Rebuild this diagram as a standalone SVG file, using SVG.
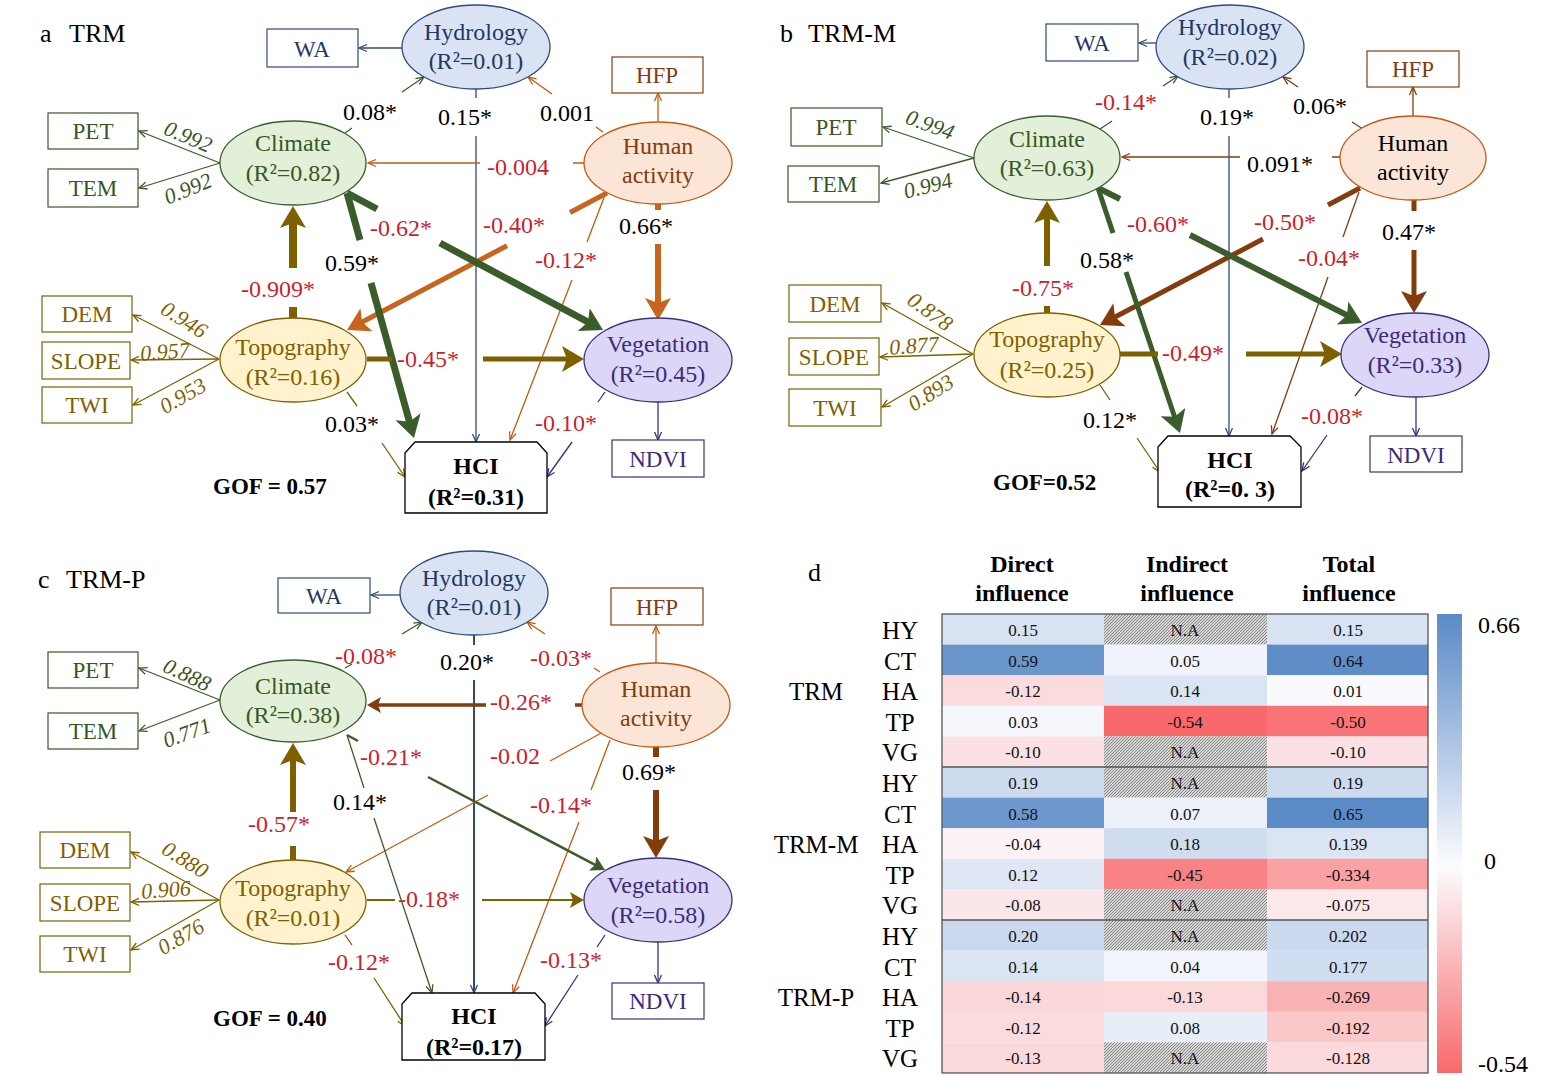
<svg xmlns="http://www.w3.org/2000/svg" width="1558" height="1076" viewBox="0 0 1558 1076">
<style>
text{font-family:"Liberation Serif","Times New Roman",serif;}
.lb{font-size:24px;fill:#000}
.rd{font-size:24px;fill:#cc1f2d}
.ttl{font-size:26px;fill:#000}
.gof{font-size:23px;font-weight:bold;fill:#000}
.nt{font-size:24px;text-anchor:middle}
.bt{font-size:23px;text-anchor:middle}
.ld{font-size:22px;text-anchor:middle;font-style:italic}
.hci{font-size:24px;font-weight:bold;text-anchor:middle;fill:#000}
.bx{fill:#fff;stroke-width:1.2}
.el{stroke-width:1.3}
.th{fill:none;stroke-width:1.3}
.cb{font-size:17px;text-anchor:middle;fill:#111}
.rl{font-size:25px;text-anchor:middle;fill:#000}
.hd{font-size:24px;font-weight:bold;text-anchor:middle;fill:#000}
.B{stroke:#2f4b7c}.G{stroke:#3b5d2c}.O{stroke:#c55a11}.R{stroke:#843c0c}.L{stroke:#7f6000}.P{stroke:#3d2f80}
.tB{fill:#1f3864}.tG{fill:#385723}.tO{fill:#843c0c}.tL{fill:#7f6000}.tP{fill:#3c2a7a}
</style>
<defs>
<marker id="sB" viewBox="0 0 10 10" refX="9" refY="5" markerWidth="10" markerHeight="10" markerUnits="userSpaceOnUse" orient="auto"><path d="M1,1.5 L9,5 L1,8.5" fill="none" stroke="#2f4b7c" stroke-width="1.3"/></marker>
<marker id="sG" viewBox="0 0 10 10" refX="9" refY="5" markerWidth="10" markerHeight="10" markerUnits="userSpaceOnUse" orient="auto"><path d="M1,1.5 L9,5 L1,8.5" fill="none" stroke="#3b5d2c" stroke-width="1.3"/></marker>
<marker id="sO" viewBox="0 0 10 10" refX="9" refY="5" markerWidth="10" markerHeight="10" markerUnits="userSpaceOnUse" orient="auto"><path d="M1,1.5 L9,5 L1,8.5" fill="none" stroke="#c55a11" stroke-width="1.3"/></marker>
<marker id="sR" viewBox="0 0 10 10" refX="9" refY="5" markerWidth="10" markerHeight="10" markerUnits="userSpaceOnUse" orient="auto"><path d="M1,1.5 L9,5 L1,8.5" fill="none" stroke="#843c0c" stroke-width="1.3"/></marker>
<marker id="sL" viewBox="0 0 10 10" refX="9" refY="5" markerWidth="10" markerHeight="10" markerUnits="userSpaceOnUse" orient="auto"><path d="M1,1.5 L9,5 L1,8.5" fill="none" stroke="#7f6000" stroke-width="1.3"/></marker>
<marker id="sP" viewBox="0 0 10 10" refX="9" refY="5" markerWidth="10" markerHeight="10" markerUnits="userSpaceOnUse" orient="auto"><path d="M1,1.5 L9,5 L1,8.5" fill="none" stroke="#3d2f80" stroke-width="1.3"/></marker>
<marker id="lL" viewBox="0 0 22 26" refX="6" refY="13" markerWidth="22" markerHeight="26" markerUnits="userSpaceOnUse" orient="auto"><path d="M0,0 L22,13 L0,26 L5,13 z" fill="#7f6000"/></marker>
<marker id="lG" viewBox="0 0 22 26" refX="6" refY="13" markerWidth="22" markerHeight="26" markerUnits="userSpaceOnUse" orient="auto"><path d="M0,0 L22,13 L0,26 L5,13 z" fill="#3b5d2c"/></marker>
<marker id="lO" viewBox="0 0 22 26" refX="6" refY="13" markerWidth="22" markerHeight="26" markerUnits="userSpaceOnUse" orient="auto"><path d="M0,0 L22,13 L0,26 L5,13 z" fill="#c8641e"/></marker>
<marker id="lR" viewBox="0 0 22 26" refX="6" refY="13" markerWidth="22" markerHeight="26" markerUnits="userSpaceOnUse" orient="auto"><path d="M0,0 L22,13 L0,26 L5,13 z" fill="#843c0c"/></marker>
<marker id="mR" viewBox="0 0 14 16" refX="5" refY="8" markerWidth="14" markerHeight="16" markerUnits="userSpaceOnUse" orient="auto"><path d="M0,0 L14,8 L0,16 L3,8 z" fill="#843c0c"/></marker>
<marker id="mG" viewBox="0 0 14 16" refX="5" refY="8" markerWidth="14" markerHeight="16" markerUnits="userSpaceOnUse" orient="auto"><path d="M0,0 L14,8 L0,16 L3,8 z" fill="#3b5d2c"/></marker>
<marker id="mL" viewBox="0 0 14 16" refX="5" refY="8" markerWidth="14" markerHeight="16" markerUnits="userSpaceOnUse" orient="auto"><path d="M0,0 L14,8 L0,16 L3,8 z" fill="#7f6000"/></marker>
<pattern id="na" width="3" height="3" patternUnits="userSpaceOnUse"><rect width="3" height="3" fill="#d6d6d6"/><path d="M0,3 L3,0 M-1,1 L1,-1 M2,4 L4,2" stroke="#7a7a7a" stroke-width="0.9"/></pattern>
<linearGradient id="cbar" x1="0" y1="0" x2="0" y2="1"><stop offset="0" stop-color="#5a8ac6"/><stop offset="0.55" stop-color="#fcfcff"/><stop offset="1" stop-color="#f8696b"/></linearGradient>
</defs>

<!-- ===================== PANEL A ===================== -->
<g id="panel-a">
<text class="ttl" x="40" y="42">a</text><text class="ttl" x="69" y="42">TRM</text>
<g id="a-connectors">
<path class="th B" d="M402,48 L359,48" marker-end="url(#sB)"/>
<path class="th B" d="M476,89 L476,98 M476,136 L476,442" marker-end="url(#sB)"/>
<path class="th G" d="M345,133 L352,128 M402,92 L424,77" marker-end="url(#sG)"/>
<path class="th O" d="M603,132 L596,127 M552,94 L528,77" marker-end="url(#sO)"/>
<path class="th O" d="M584,163 L573,163 M480,163 L368,163" marker-end="url(#sO)"/>
<path class="th O" d="M658,122 L658,93" marker-end="url(#sO)"/>
<path class="th O" d="M605,195 L587,242 M572,280 L510,440" marker-end="url(#sO)"/>
<path fill="none" stroke="#c8641e" stroke-width="5" d="M607,193 L570,212.5 M507,245.7 L361.2,322.5" marker-end="url(#lO)"/>
<path fill="none" stroke="#c8641e" stroke-width="6" d="M658,204 L658,210 M658,244 L658,304" marker-end="url(#lO)"/>
<path fill="none" stroke="#3b5d2c" stroke-width="7" d="M347,193 L377,209 M440,243 L588.9,322.5" marker-end="url(#lG)"/>
<path fill="none" stroke="#3b5d2c" stroke-width="7" d="M347,193 L360,240 M371,283 L409.7,422.6" marker-end="url(#lG)"/>
<path fill="none" stroke="#7f6000" stroke-width="8" d="M293,318 L293,307 M293,268 L293,222" marker-end="url(#lL)"/>
<path fill="none" stroke="#7f6000" stroke-width="5" d="M367,359 L392,359 M483,359 L568,359" marker-end="url(#lL)"/>
<path class="th L" d="M347,392 L357,406 M382,443 L405,477" marker-end="url(#sL)"/>
<path class="th P" d="M605,392 L598,402 M572,442 L547,477" marker-end="url(#sP)"/>
<path class="th P" d="M658,402 L658,440" marker-end="url(#sP)"/>
<path class="th G" d="M220,163 L139,131" marker-end="url(#sG)"/>
<path class="th G" d="M220,163 L139,188" marker-end="url(#sG)"/>
<path class="th L" d="M219,359 L133,315" marker-end="url(#sL)"/>
<path class="th L" d="M219,359 L131,360" marker-end="url(#sL)"/>
<path class="th L" d="M219,359 L133,405" marker-end="url(#sL)"/>
</g>
<g id="a-labels">
<text class="lb" x="343" y="120">0.08*</text>
<text class="lb" x="438" y="125">0.15*</text>
<text class="lb" x="540" y="121">0.001</text>
<text class="rd" x="487" y="175">-0.004</text>
<text class="rd" x="370" y="236">-0.62*</text>
<text class="rd" x="483" y="233">-0.40*</text>
<text class="lb" x="619" y="234">0.66*</text>
<text class="lb" x="325" y="271">0.59*</text>
<text class="rd" x="535" y="268">-0.12*</text>
<text class="rd" x="241" y="297">-0.909*</text>
<text class="rd" x="397" y="367">-0.45*</text>
<text class="lb" x="325" y="432">0.03*</text>
<text class="rd" x="535" y="431">-0.10*</text>
<text class="ld tG" transform="rotate(23 188 137)" x="188" y="144">0.992</text>
<text class="ld tG" transform="rotate(-22 188 189)" x="188" y="196">0.992</text>
<text class="ld tL" transform="rotate(32 184 320)" x="184" y="327">0.946</text>
<text class="ld tL" transform="rotate(-4 165 352)" x="165" y="359">0.957</text>
<text class="ld tL" transform="rotate(-30 183 396)" x="183" y="403">0.953</text>
<text class="gof" x="213" y="494">GOF = 0.57</text>
</g>
<g id="a-hydrology"><ellipse class="el" cx="476" cy="47" rx="74" ry="42" fill="#dae3f3" stroke="#2f4b7c"/><text class="nt tB" x="476" y="40">Hydrology</text><text class="nt tB" x="476" y="69">(R²=0.01)</text></g>
<g id="a-climate"><ellipse class="el" cx="293" cy="163" rx="73" ry="42" fill="#e2f0d9" stroke="#3b5d2c"/><text class="nt tG" x="293" y="151">Climate</text><text class="nt tG" x="293" y="181">(R²=0.82)</text></g>
<g id="a-human"><ellipse class="el" cx="658" cy="163" rx="74" ry="41" fill="#fbe5d6" stroke="#c55a11"/><text class="nt tO" x="658" y="154">Human</text><text class="nt tO" x="658" y="183">activity</text></g>
<g id="a-topography"><ellipse class="el" cx="293" cy="360" rx="73" ry="42" fill="#fff2cc" stroke="#7f6000"/><text class="nt tL" x="293" y="355">Topography</text><text class="nt tL" x="293" y="385">(R²=0.16)</text></g>
<g id="a-vegetation"><ellipse class="el" cx="658" cy="360" rx="74" ry="42" fill="#dcd6f7" stroke="#3d2f80"/><text class="nt tP" x="658" y="352">Vegetation</text><text class="nt tP" x="658" y="382">(R²=0.45)</text></g>
<g id="a-hci"><path d="M415,442 L537,442 L547,453 L547,513 L405,513 L405,453 Z" fill="#fff" stroke="#000" stroke-width="1.3"/><text class="hci" x="476" y="474">HCI</text><text class="hci" x="476" y="505">(R²=0.31)</text></g>
<g id="a-wa"><rect class="bx" x="267" y="29" width="91" height="38" stroke="#2f4b7c"/><text class="bt tB" x="312" y="57">WA</text></g>
<g id="a-hfp"><rect class="bx" x="612" y="57" width="91" height="36" stroke="#843c0c"/><text class="bt tO" x="657" y="83">HFP</text></g>
<g id="a-pet"><rect class="bx" x="48" y="113" width="90" height="36" stroke="#385723"/><text class="bt tG" x="93" y="139">PET</text></g>
<g id="a-tem"><rect class="bx" x="48" y="169" width="90" height="38" stroke="#385723"/><text class="bt tG" x="93" y="196">TEM</text></g>
<g id="a-dem"><rect class="bx" x="42" y="296" width="90" height="36" stroke="#7f6000"/><text class="bt tL" x="87" y="322">DEM</text></g>
<g id="a-slope"><rect class="bx" x="42" y="342" width="88" height="37" stroke="#7f6000"/><text class="bt tL" x="86" y="369">SLOPE</text></g>
<g id="a-twi"><rect class="bx" x="42" y="387" width="90" height="36" stroke="#7f6000"/><text class="bt tL" x="87" y="413">TWI</text></g>
<g id="a-ndvi"><rect class="bx" x="612" y="440" width="92" height="37" stroke="#3d2f80"/><text class="bt tP" x="658" y="467">NDVI</text></g>
</g>

<!-- ===================== PANEL B ===================== -->
<g id="panel-b">
<text class="ttl" x="780" y="42">b</text><text class="ttl" x="808" y="42">TRM-M</text>
<g id="b-connectors">
<path class="th B" d="M1157,43 L1139,43" marker-end="url(#sB)"/>
<path class="th B" d="M1229,89 L1229,98 M1229,136 L1229,436" marker-end="url(#sB)"/>
<path class="th G" d="M1100,129 L1112,121 M1163,86 L1178,76" marker-end="url(#sG)"/>
<path class="th R" d="M1363,129 L1352,122 M1298,87 L1283,77" marker-end="url(#sR)"/>
<path class="th R" d="M1340,157 L1332,157 M1240,157 L1122,157" marker-end="url(#sR)"/>
<path class="th R" d="M1413,117 L1413,87" marker-end="url(#sR)"/>
<path class="th R" d="M1359,192 L1343,237 M1328,277 L1272,434" marker-end="url(#sR)"/>
<path fill="none" stroke="#843c0c" stroke-width="5" d="M1360,188 L1328,205 M1263,239 L1114.1,317.5" marker-end="url(#lR)"/>
<path fill="none" stroke="#843c0c" stroke-width="5" d="M1414,200 L1414,211 M1414,250 L1414,297" marker-end="url(#lR)"/>
<path fill="none" stroke="#3b5d2c" stroke-width="6" d="M1098,188 L1120,199 M1190,235 L1347.8,315.7" marker-end="url(#lG)"/>
<path fill="none" stroke="#3b5d2c" stroke-width="5" d="M1098,188 L1113,233 M1126,272 L1174.9,417.8" marker-end="url(#lG)"/>
<path fill="none" stroke="#7f6000" stroke-width="6" d="M1047,313 L1047,306 M1047,266 L1047,217" marker-end="url(#lL)"/>
<path fill="none" stroke="#7f6000" stroke-width="5" d="M1120,354 L1158,354 M1246,354 L1326,354" marker-end="url(#lL)"/>
<path class="th L" d="M1100,385 L1110,400 M1137,438 L1160,472" marker-end="url(#sL)"/>
<path class="th P" d="M1362,387 L1355,396 M1327,435 L1302,471" marker-end="url(#sP)"/>
<path class="th P" d="M1416,397 L1416,436" marker-end="url(#sP)"/>
<path class="th G" d="M974,158 L883,127" marker-end="url(#sG)"/>
<path class="th G" d="M974,158 L881,183" marker-end="url(#sG)"/>
<path class="th L" d="M973,354 L882,303" marker-end="url(#sL)"/>
<path class="th L" d="M973,354 L880,357" marker-end="url(#sL)"/>
<path class="th L" d="M973,354 L882,407" marker-end="url(#sL)"/>
</g>
<g id="b-labels">
<text class="rd" x="1095" y="110">-0.14*</text>
<text class="lb" x="1200" y="125">0.19*</text>
<text class="lb" x="1293" y="114">0.06*</text>
<text class="lb" x="1247" y="172">0.091*</text>
<text class="rd" x="1127" y="232">-0.60*</text>
<text class="rd" x="1254" y="230">-0.50*</text>
<text class="lb" x="1382" y="240">0.47*</text>
<text class="lb" x="1080" y="268">0.58*</text>
<text class="rd" x="1298" y="266">-0.04*</text>
<text class="rd" x="1012" y="296">-0.75*</text>
<text class="rd" x="1162" y="361">-0.49*</text>
<text class="lb" x="1083" y="428">0.12*</text>
<text class="rd" x="1301" y="424">-0.08*</text>
<text class="ld tG" transform="rotate(20 930 125)" x="930" y="132">0.994</text>
<text class="ld tG" transform="rotate(-14 928 186)" x="928" y="193">0.994</text>
<text class="ld tL" transform="rotate(36 930 312)" x="930" y="319">0.878</text>
<text class="ld tL" transform="rotate(-4 914 346)" x="914" y="353">0.877</text>
<text class="ld tL" transform="rotate(-32 931 393)" x="931" y="400">0.893</text>
<text class="gof" x="993" y="490">GOF=0.52</text>
</g>
<g id="b-hydrology"><ellipse class="el" cx="1230" cy="47" rx="74" ry="42" fill="#dae3f3" stroke="#2f4b7c"/><text class="nt tB" x="1230" y="35">Hydrology</text><text class="nt tB" x="1230" y="65">(R²=0.02)</text></g>
<g id="b-climate"><ellipse class="el" cx="1047" cy="158" rx="73" ry="42" fill="#e2f0d9" stroke="#3b5d2c"/><text class="nt tG" x="1047" y="147">Climate</text><text class="nt tG" x="1047" y="176">(R²=0.63)</text></g>
<g id="b-human"><ellipse class="el" cx="1413" cy="158" rx="73" ry="42" fill="#fbe5d6" stroke="#c55a11"/><text class="nt" x="1413" y="151" fill="#000">Human</text><text class="nt" x="1413" y="180" fill="#000">activity</text></g>
<g id="b-topography"><ellipse class="el" cx="1047" cy="355" rx="73" ry="42" fill="#fff2cc" stroke="#7f6000"/><text class="nt tL" x="1047" y="347">Topography</text><text class="nt tL" x="1047" y="378">(R²=0.25)</text></g>
<g id="b-vegetation"><ellipse class="el" cx="1415" cy="355" rx="74" ry="42" fill="#dcd6f7" stroke="#3d2f80"/><text class="nt tP" x="1415" y="343">Vegetation</text><text class="nt tP" x="1415" y="373">(R²=0.33)</text></g>
<g id="b-hci"><path d="M1168,436 L1290,436 L1301,447 L1301,507 L1158,507 L1158,447 Z" fill="#fff" stroke="#000" stroke-width="1.3"/><text class="hci" x="1230" y="468">HCI</text><text class="hci" x="1230" y="497">(R²=0. 3)</text></g>
<g id="b-wa"><rect class="bx" x="1046" y="24" width="92" height="37" stroke="#2f4b7c"/><text class="bt tB" x="1092" y="51">WA</text></g>
<g id="b-hfp"><rect class="bx" x="1367" y="51" width="92" height="36" stroke="#843c0c"/><text class="bt tO" x="1413" y="77">HFP</text></g>
<g id="b-pet"><rect class="bx" x="791" y="108" width="91" height="38" stroke="#385723"/><text class="bt tG" x="836" y="135">PET</text></g>
<g id="b-tem"><rect class="bx" x="788" y="166" width="91" height="36" stroke="#385723"/><text class="bt tG" x="833" y="192">TEM</text></g>
<g id="b-dem"><rect class="bx" x="789" y="285" width="92" height="37" stroke="#7f6000"/><text class="bt tL" x="835" y="312">DEM</text></g>
<g id="b-slope"><rect class="bx" x="789" y="338" width="90" height="37" stroke="#7f6000"/><text class="bt tL" x="834" y="365">SLOPE</text></g>
<g id="b-twi"><rect class="bx" x="789" y="389" width="92" height="37" stroke="#7f6000"/><text class="bt tL" x="835" y="416">TWI</text></g>
<g id="b-ndvi"><rect class="bx" x="1370" y="436" width="92" height="36" stroke="#3d2f80"/><text class="bt tP" x="1416" y="463">NDVI</text></g>
</g>

<!-- ===================== PANEL C ===================== -->
<g id="panel-c">
<text class="ttl" x="38" y="588">c</text><text class="ttl" x="66" y="588">TRM-P</text>
<g id="c-connectors">
<path class="th B" d="M400,595 L371,595" marker-end="url(#sB)"/>
<path fill="none" stroke="#2f4b7c" stroke-width="2" d="M474,635 L474,645 M474,680 L474,993" marker-end="url(#sB)"/>
<path class="th G" d="M345,668 L352,664 M402,634 L422,622" marker-end="url(#sG)"/>
<path class="th O" d="M600,672 L594,668 M545,634 L527,622" marker-end="url(#sO)"/>
<path fill="none" stroke="#843c0c" stroke-width="3.5" d="M583,705 L575,705 M486,705 L376,705" marker-end="url(#mR)"/>
<path class="th O" d="M656,663 L656,626" marker-end="url(#sO)"/>
<path class="th O" d="M605,731 L550,761 M488,795 L346,872" marker-end="url(#sO)"/>
<path class="th O" d="M610,740 L591,790 M579,822 L513,993" marker-end="url(#sO)"/>
<path fill="none" stroke="#843c0c" stroke-width="6" d="M656,747 L656,757 M656,790 L656,842" marker-end="url(#lR)"/>
<path fill="none" stroke="#3b5d2c" stroke-width="2.5" d="M347,735 L358,741 M428,777 L597,865.8" marker-end="url(#mG)"/>
<path class="th G" d="M347,735 L364,788 M374,818 L432,993" marker-end="url(#sG)"/>
<path fill="none" stroke="#7f6000" stroke-width="6" d="M293,860 L293,846 M293,812 L293,759" marker-end="url(#lL)"/>
<path fill="none" stroke="#7f6000" stroke-width="2" d="M367,900 L395,900 M482,900 L575,900" marker-end="url(#mL)"/>
<path class="th L" d="M345,935 L352,945 M374,978 L405,1026" marker-end="url(#sL)"/>
<path class="th P" d="M605,935 L597,947 M578,975 L545,1026" marker-end="url(#sP)"/>
<path class="th P" d="M658,942 L658,983" marker-end="url(#sP)"/>
<path class="th G" d="M220,700 L139,668" marker-end="url(#sG)"/>
<path class="th G" d="M220,700 L139,731" marker-end="url(#sG)"/>
<path class="th L" d="M219,900 L131,852" marker-end="url(#sL)"/>
<path class="th L" d="M219,900 L131,902" marker-end="url(#sL)"/>
<path class="th L" d="M219,900 L131,950" marker-end="url(#sL)"/>
</g>
<g id="c-labels">
<text class="rd" x="335" y="664">-0.08*</text>
<text class="lb" x="440" y="670">0.20*</text>
<text class="rd" x="530" y="666">-0.03*</text>
<text class="rd" x="490" y="710">-0.26*</text>
<text class="rd" x="360" y="765">-0.21*</text>
<text class="rd" x="490" y="764">-0.02</text>
<text class="lb" x="622" y="780">0.69*</text>
<text class="rd" x="530" y="813">-0.14*</text>
<text class="lb" x="333" y="810">0.14*</text>
<text class="rd" x="248" y="832">-0.57*</text>
<text class="rd" x="398" y="907">-0.18*</text>
<text class="rd" x="328" y="970">-0.12*</text>
<text class="rd" x="540" y="968">-0.13*</text>
<text class="ld tG" transform="rotate(25 187 675)" x="187" y="682">0.888</text>
<text class="ld tG" transform="rotate(-20 187 733)" x="187" y="740">0.771</text>
<text class="ld tL" transform="rotate(32 185 860)" x="185" y="867">0.880</text>
<text class="ld tL" transform="rotate(-4 166 890)" x="166" y="897">0.906</text>
<text class="ld tL" transform="rotate(-30 181 937)" x="181" y="944">0.876</text>
<text class="gof" x="213" y="1026">GOF = 0.40</text>
</g>
<g id="c-hydrology"><ellipse class="el" cx="474" cy="593" rx="74" ry="42" fill="#dae3f3" stroke="#2f4b7c"/><text class="nt tB" x="474" y="586">Hydrology</text><text class="nt tB" x="474" y="615">(R²=0.01)</text></g>
<g id="c-climate"><ellipse class="el" cx="293" cy="701" rx="73" ry="41" fill="#e2f0d9" stroke="#3b5d2c"/><text class="nt tG" x="293" y="694">Climate</text><text class="nt tG" x="293" y="723">(R²=0.38)</text></g>
<g id="c-human"><ellipse class="el" cx="656" cy="705" rx="74" ry="42" fill="#fbe5d6" stroke="#c55a11"/><text class="nt tO" x="656" y="697">Human</text><text class="nt tO" x="656" y="726">activity</text></g>
<g id="c-topography"><ellipse class="el" cx="293" cy="902" rx="73" ry="42" fill="#fff2cc" stroke="#7f6000"/><text class="nt tL" x="293" y="896">Topography</text><text class="nt tL" x="293" y="926">(R²=0.01)</text></g>
<g id="c-vegetation"><ellipse class="el" cx="658" cy="900" rx="74" ry="42" fill="#dcd6f7" stroke="#3d2f80"/><text class="nt tP" x="658" y="893">Vegetation</text><text class="nt tP" x="658" y="923">(R²=0.58)</text></g>
<g id="c-hci"><path d="M412,993 L535,993 L545,1004 L545,1060 L402,1060 L402,1004 Z" fill="#fff" stroke="#000" stroke-width="1.3"/><text class="hci" x="474" y="1024">HCI</text><text class="hci" x="474" y="1055">(R²=0.17)</text></g>
<g id="c-wa"><rect class="bx" x="278" y="578" width="92" height="35" stroke="#2f4b7c"/><text class="bt tB" x="324" y="604">WA</text></g>
<g id="c-hfp"><rect class="bx" x="611" y="588" width="92" height="37" stroke="#843c0c"/><text class="bt tO" x="657" y="615">HFP</text></g>
<g id="c-pet"><rect class="bx" x="48" y="652" width="90" height="36" stroke="#385723"/><text class="bt tG" x="93" y="678">PET</text></g>
<g id="c-tem"><rect class="bx" x="48" y="713" width="90" height="36" stroke="#385723"/><text class="bt tG" x="93" y="739">TEM</text></g>
<g id="c-dem"><rect class="bx" x="40" y="832" width="90" height="36" stroke="#7f6000"/><text class="bt tL" x="85" y="858">DEM</text></g>
<g id="c-slope"><rect class="bx" x="40" y="884" width="90" height="37" stroke="#7f6000"/><text class="bt tL" x="85" y="911">SLOPE</text></g>
<g id="c-twi"><rect class="bx" x="40" y="936" width="90" height="36" stroke="#7f6000"/><text class="bt tL" x="85" y="962">TWI</text></g>
<g id="c-ndvi"><rect class="bx" x="612" y="983" width="92" height="36" stroke="#3d2f80"/><text class="bt tP" x="658" y="1009">NDVI</text></g>
</g>

<!-- ===================== PANEL D ===================== -->
<g id="panel-d">
<text class="ttl" x="808" y="581">d</text>
<text class="hd" x="1022" y="572">Direct</text><text class="hd" x="1022" y="601">influence</text>
<text class="hd" x="1187" y="572">Indirect</text><text class="hd" x="1187" y="601">influence</text>
<text class="hd" x="1349" y="572">Total</text><text class="hd" x="1349" y="601">influence</text>
<g id="d-cells">
<rect x="942" y="614" width="162" height="30.7" fill="#d7e2f2"/><rect x="1104" y="614" width="163" height="30.7" fill="url(#na)"/><rect x="1267" y="614" width="161" height="30.7" fill="#d7e2f2"/>
<rect x="942" y="644.6" width="162" height="30.7" fill="#6b96cc"/><rect x="1104" y="644.6" width="163" height="30.7" fill="#f0f3fb"/><rect x="1267" y="644.6" width="161" height="30.7" fill="#5f8dc8"/>
<rect x="942" y="675.2" width="162" height="30.7" fill="#fbdbde"/><rect x="1104" y="675.2" width="163" height="30.7" fill="#dae4f3"/><rect x="1267" y="675.2" width="161" height="30.7" fill="#fafafe"/>
<rect x="942" y="705.8" width="162" height="30.7" fill="#f5f7fc"/><rect x="1104" y="705.8" width="163" height="30.7" fill="#f8696b"/><rect x="1267" y="705.8" width="161" height="30.7" fill="#f87476"/>
<rect x="942" y="736.4" width="162" height="30.7" fill="#fbe1e4"/><rect x="1104" y="736.4" width="163" height="30.7" fill="url(#na)"/><rect x="1267" y="736.4" width="161" height="30.7" fill="#fbe1e4"/>
<rect x="942" y="767" width="162" height="30.7" fill="#cddbef"/><rect x="1104" y="767" width="163" height="30.7" fill="url(#na)"/><rect x="1267" y="767" width="161" height="30.7" fill="#cddbef"/>
<rect x="942" y="797.6" width="162" height="30.7" fill="#6e98cd"/><rect x="1104" y="797.6" width="163" height="30.7" fill="#ebf0f9"/><rect x="1267" y="797.6" width="161" height="30.7" fill="#5c8cc7"/>
<rect x="942" y="828.2" width="162" height="30.7" fill="#fcf1f4"/><rect x="1104" y="828.2" width="163" height="30.7" fill="#d0ddef"/><rect x="1267" y="828.2" width="161" height="30.7" fill="#dae4f3"/>
<rect x="942" y="858.8" width="162" height="30.7" fill="#dfe7f5"/><rect x="1104" y="858.8" width="163" height="30.7" fill="#f98284"/><rect x="1267" y="858.8" width="161" height="30.7" fill="#faa1a3"/>
<rect x="942" y="889.4" width="162" height="30.7" fill="#fbe6e9"/><rect x="1104" y="889.4" width="163" height="30.7" fill="url(#na)"/><rect x="1267" y="889.4" width="161" height="30.7" fill="#fbe8ea"/>
<rect x="942" y="920" width="162" height="30.7" fill="#cbd9ee"/><rect x="1104" y="920" width="163" height="30.7" fill="url(#na)"/><rect x="1267" y="920" width="161" height="30.7" fill="#cad9ee"/>
<rect x="942" y="950.6" width="162" height="30.7" fill="#dae4f3"/><rect x="1104" y="950.6" width="163" height="30.7" fill="#f2f5fc"/><rect x="1267" y="950.6" width="161" height="30.7" fill="#d1ddf0"/>
<rect x="942" y="981.2" width="162" height="30.7" fill="#fbd6d9"/><rect x="1104" y="981.2" width="163" height="30.7" fill="#fbd9db"/><rect x="1267" y="981.2" width="161" height="30.7" fill="#fab3b5"/>
<rect x="942" y="1011.8" width="162" height="30.7" fill="#fbdbde"/><rect x="1104" y="1011.8" width="163" height="30.7" fill="#e8eef8"/><rect x="1267" y="1011.8" width="161" height="30.7" fill="#fbc8ca"/>
<rect x="942" y="1042.4" width="162" height="30.6" fill="#fbd9db"/><rect x="1104" y="1042.4" width="163" height="30.6" fill="url(#na)"/><rect x="1267" y="1042.4" width="161" height="30.6" fill="#fbd9dc"/>
</g>
<g id="d-grid" fill="none" stroke="#555" stroke-width="1.3">
<rect x="942" y="614" width="486" height="459"/>
<line x1="942" y1="767" x2="1428" y2="767"/>
<line x1="942" y1="920" x2="1428" y2="920"/>
</g>
<g id="d-values">
<text class="cb" x="1023" y="636">0.15</text><text class="cb" x="1185" y="636">N.A</text><text class="cb" x="1348" y="636">0.15</text>
<text class="cb" x="1023" y="666.6">0.59</text><text class="cb" x="1185" y="666.6">0.05</text><text class="cb" x="1348" y="666.6">0.64</text>
<text class="cb" x="1023" y="697.2">-0.12</text><text class="cb" x="1185" y="697.2">0.14</text><text class="cb" x="1348" y="697.2">0.01</text>
<text class="cb" x="1023" y="727.8">0.03</text><text class="cb" x="1185" y="727.8">-0.54</text><text class="cb" x="1348" y="727.8">-0.50</text>
<text class="cb" x="1023" y="758.4">-0.10</text><text class="cb" x="1185" y="758.4">N.A</text><text class="cb" x="1348" y="758.4">-0.10</text>
<text class="cb" x="1023" y="789">0.19</text><text class="cb" x="1185" y="789">N.A</text><text class="cb" x="1348" y="789">0.19</text>
<text class="cb" x="1023" y="819.6">0.58</text><text class="cb" x="1185" y="819.6">0.07</text><text class="cb" x="1348" y="819.6">0.65</text>
<text class="cb" x="1023" y="850.2">-0.04</text><text class="cb" x="1185" y="850.2">0.18</text><text class="cb" x="1348" y="850.2">0.139</text>
<text class="cb" x="1023" y="880.8">0.12</text><text class="cb" x="1185" y="880.8">-0.45</text><text class="cb" x="1348" y="880.8">-0.334</text>
<text class="cb" x="1023" y="911.4">-0.08</text><text class="cb" x="1185" y="911.4">N.A</text><text class="cb" x="1348" y="911.4">-0.075</text>
<text class="cb" x="1023" y="942">0.20</text><text class="cb" x="1185" y="942">N.A</text><text class="cb" x="1348" y="942">0.202</text>
<text class="cb" x="1023" y="972.6">0.14</text><text class="cb" x="1185" y="972.6">0.04</text><text class="cb" x="1348" y="972.6">0.177</text>
<text class="cb" x="1023" y="1003.2">-0.14</text><text class="cb" x="1185" y="1003.2">-0.13</text><text class="cb" x="1348" y="1003.2">-0.269</text>
<text class="cb" x="1023" y="1033.8">-0.12</text><text class="cb" x="1185" y="1033.8">0.08</text><text class="cb" x="1348" y="1033.8">-0.192</text>
<text class="cb" x="1023" y="1064.4">-0.13</text><text class="cb" x="1185" y="1064.4">N.A</text><text class="cb" x="1348" y="1064.4">-0.128</text>
</g>
<g id="d-rowlabels">
<text class="rl" x="900" y="639">HY</text><text class="rl" x="900" y="669.6">CT</text><text class="rl" x="900" y="700.2">HA</text><text class="rl" x="900" y="730.8">TP</text><text class="rl" x="900" y="761.4">VG</text>
<text class="rl" x="900" y="792">HY</text><text class="rl" x="900" y="822.6">CT</text><text class="rl" x="900" y="853.2">HA</text><text class="rl" x="900" y="883.8">TP</text><text class="rl" x="900" y="914.4">VG</text>
<text class="rl" x="900" y="945">HY</text><text class="rl" x="900" y="975.6">CT</text><text class="rl" x="900" y="1006.2">HA</text><text class="rl" x="900" y="1036.8">TP</text><text class="rl" x="900" y="1067.4">VG</text>
<text class="rl" x="816" y="700.2">TRM</text>
<text class="rl" x="816" y="853.2">TRM-M</text>
<text class="rl" x="816" y="1006.2">TRM-P</text>
</g>
<g id="d-colorbar">
<rect x="1437" y="614" width="25" height="459" fill="url(#cbar)"/>
<text class="lb" x="1478" y="633">0.66</text>
<text class="lb" x="1484" y="869">0</text>
<text class="lb" x="1478" y="1072">-0.54</text>
</g>
</g>
</svg>
